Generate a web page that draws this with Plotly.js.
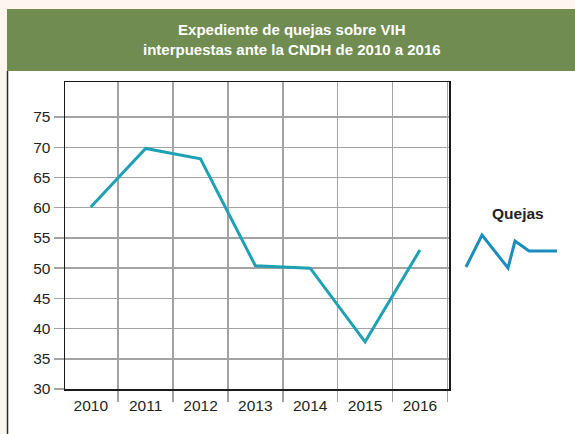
<!DOCTYPE html>
<html>
<head>
<meta charset="utf-8">
<script src="https://cdn.plot.ly/plotly-3.0.1.min.js"></script>
<style>
html,body{margin:0;padding:0;background:#fdf6ee;}
#chart{width:575px;height:434px;}
</style>
</head>
<body>
<div id="chart"></div>
<script>
// ---- data ----
const years = ["2010", "2011", "2012", "2013", "2014", "2015", "2016"];
const quejas = [60.1, 69.8, 68.1, 50.4, 50.0, 37.8, 53.0];
const yTicks = [30, 35, 40, 45, 50, 55, 60, 65, 70, 75];
const seriesName = "Quejas";
const titleLines = ["Expediente de quejas sobre VIH", "interpuestas ante la CNDH de 2010 a 2016"];

// ---- layout geometry (pixels) ----
const W = 575, H = 434;
const L = 65, R = 449, T = 82, B = 389;
const px = x => (x - L) / (R - L);
const py = y => (B - y) / (B - T);

const FONT = "Liberation Sans Narrow, Arial Narrow, Liberation Sans, Arial, sans-serif";
const lineColor = "#1fa1b5";
const tickFont = {family: FONT, size: 15.5, color: "#231f20"};

const trace = {
  x: years,
  y: quejas,
  type: "scatter",
  mode: "lines",
  name: seriesName,
  line: {color: lineColor, width: 3},
  showlegend: false,
  hoverinfo: "x+y"
};

// legend icon (decorative zigzag)
const iconPts = [[466,267],[482,235],[508,268],[515,241],[529,251],[557,251]];
const iconPath = iconPts.map((p, i) => (i ? "L" : "M") + px(p[0]) + "," + py(p[1])).join(" ");

const layout = {
  width: W, height: H,
  margin: {l: L, r: W - R, t: T, b: H - B, pad: 0},
  paper_bgcolor: "#fdf6ee",
  plot_bgcolor: "rgba(0,0,0,0)",
  font: {family: FONT, size: 15.5, color: "#231f20"},
  xaxis: {
    type: "category",
    categoryorder: "array",
    categoryarray: years,
    range: [-0.47, 6.53],
    tickson: "boundaries",
    ticks: "outside", ticklen: 11, tickwidth: 1.5, tickcolor: "#a3a3a3",
    ticklabelstandoff: 2,
    showgrid: true, gridcolor: "#a3a3a3", gridwidth: 1.5,
    showline: true, linecolor: "#1a1a1a", linewidth: 1.5, mirror: true,
    zeroline: false,
    tickfont: tickFont,
    fixedrange: true
  },
  yaxis: {
    range: [30, 80.8],
    tickmode: "array", tickvals: yTicks, ticktext: yTicks.map(String),
    ticks: "outside", ticklen: 10, tickwidth: 1.5, tickcolor: "#a3a3a3",
    showgrid: true, gridcolor: "#a3a3a3", gridwidth: 1.5,
    showline: true, linecolor: "#1a1a1a", linewidth: 1.5, mirror: true,
    zeroline: false,
    tickfont: tickFont,
    fixedrange: true
  },
  shapes: [
    {type: "rect", xref: "paper", yref: "paper", x0: px(7), x1: px(576), y0: py(9), y1: py(435),
     fillcolor: "#ffffff", line: {width: 0}, layer: "below"},
    {type: "rect", xref: "paper", yref: "paper", x0: px(7), x1: px(576), y0: py(9), y1: py(71),
     fillcolor: "#708c51", line: {width: 0}, layer: "below"},
    {type: "line", xref: "paper", yref: "paper", x0: px(7.5), x1: px(7.5), y0: py(71), y1: py(435),
     line: {color: "#2a2a2a", width: 1.5}, layer: "below"},
    {type: "path", xref: "paper", yref: "paper", path: iconPath,
     line: {color: "#1b8dbd", width: 3}, layer: "above"}
  ],
  annotations: [
    {xref: "paper", yref: "paper", x: px(292), y: py(40), xanchor: "center", yanchor: "middle",
     text: "<b>" + titleLines.join("<br>") + "</b>", showarrow: false,
     font: {family: FONT, size: 15, color: "#ffffff"}, align: "center"},
    {xref: "paper", yref: "paper", x: px(518), y: py(213), xanchor: "center", yanchor: "middle",
     text: "<b>" + seriesName + "</b>", showarrow: false,
     font: {family: FONT, size: 15.5, color: "#231f20"}}
  ]
};

Plotly.newPlot("chart", [trace], layout, {displayModeBar: false, staticPlot: true});
</script>
</body>
</html>
